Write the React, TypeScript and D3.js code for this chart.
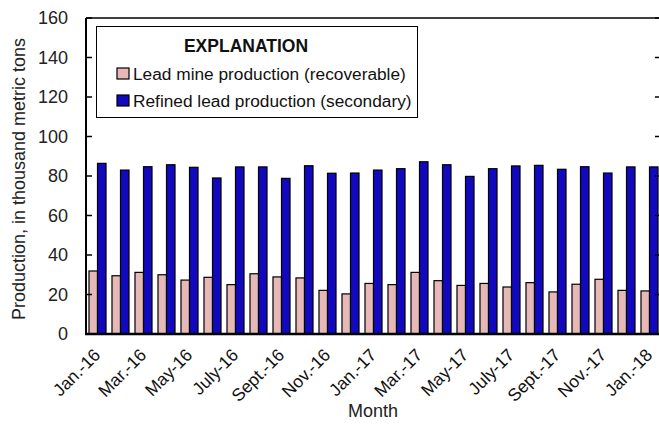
import React, { useEffect, useRef } from 'react';
import * as d3 from 'd3';

const months = [
  'Jan.-16', 'Feb.-16', 'Mar.-16', 'Apr.-16', 'May-16', 'June-16', 'July-16', 'Aug.-16', 'Sept.-16',
  'Oct.-16', 'Nov.-16', 'Dec.-16', 'Jan.-17', 'Feb.-17', 'Mar.-17', 'Apr.-17', 'May-17', 'June-17',
  'July-17', 'Aug.-17', 'Sept.-17', 'Oct.-17', 'Nov.-17', 'Dec.-17', 'Jan.-18',
];
// every other month gets a label
const tickMonths = months.filter((d, i) => i % 2 === 0);

const mineProduction = [
  31.9, 29.5, 31.2, 30.0, 27.3, 28.7, 25.0, 30.5, 28.9, 28.4, 22.1, 20.3, 25.6,
  25.0, 31.2, 27.0, 24.6, 25.6, 23.8, 26.0, 21.3, 25.2, 27.7, 22.1, 21.8,
];
const refinedProduction = [
  86.4, 83.0, 84.7, 85.7, 84.4, 79.0, 84.6, 84.6, 78.8, 85.2, 81.4, 81.5, 83.0,
  83.7, 87.2, 85.7, 79.8, 83.7, 85.1, 85.4, 83.4, 84.7, 81.5, 84.6, 84.6,
];
const seriesNames = ['Lead mine production (recoverable)', 'Refined lead production (secondary)'];
const seriesColors = ['#E6B8B7', '#1208BE'];
const yTicks = [0, 20, 40, 60, 80, 100, 120, 140, 160];

const W = 659;
const H = 426;
const FONT = '"Liberation Sans", Arial, sans-serif';

const App = () => {
  const svgRef = useRef<SVGSVGElement>(null);

  useEffect(() => {
    const svg = d3.select(svgRef.current);
    svg.selectAll('*').remove();

    const left = 86, right = 661, top = 18, bottom = 334;

    const x = d3.scaleBand().domain(months).range([left, right]).paddingInner(0.26).paddingOuter(0.13);
    const xInner = d3.scaleBand().domain(['mine', 'refined']).range([0, x.bandwidth()]);
    const y = d3.scaleLinear().domain([0, 160]).range([bottom, top]);

    const rows = months.map((m, i) => ({ month: m, mine: mineProduction[i], refined: refinedProduction[i] }));

    // bars
    const groups = svg.append('g').selectAll('g').data(rows).enter().append('g')
      .attr('transform', d => `translate(${x(d.month)},0)`);
    ['mine', 'refined'].forEach((key, k) => {
      groups.append('rect')
        .attr('x', xInner(key))
        .attr('width', xInner.bandwidth())
        .attr('y', (d: any) => y(d[key]))
        .attr('height', (d: any) => y(0) - y(d[key]))
        .attr('fill', seriesColors[k])
        .attr('stroke', '#000')
        .attr('stroke-width', 1.2);
    });

    // frame
    svg.append('line').attr('x1', left).attr('x2', right).attr('y1', top).attr('y2', top)
      .attr('stroke', '#000').attr('stroke-width', 1.5);
    svg.append('line').attr('x1', right).attr('x2', right).attr('y1', top).attr('y2', bottom)
      .attr('stroke', '#000').attr('stroke-width', 1.5);
    svg.append('line').attr('x1', left).attr('x2', left).attr('y1', top).attr('y2', bottom + 1)
      .attr('stroke', '#000').attr('stroke-width', 2);
    svg.append('line').attr('x1', left - 1).attr('x2', right).attr('y1', bottom).attr('y2', bottom)
      .attr('stroke', '#000').attr('stroke-width', 2.5);

    // y ticks, inside on both sides
    const ty = svg.append('g');
    yTicks.forEach(t => {
      ty.append('line').attr('x1', left).attr('x2', left + 6).attr('y1', y(t)).attr('y2', y(t))
        .attr('stroke', '#000').attr('stroke-width', 1.5);
      ty.append('line').attr('x1', right - 6).attr('x2', right).attr('y1', y(t)).attr('y2', y(t))
        .attr('stroke', '#000').attr('stroke-width', 1.5);
      ty.append('text').attr('x', 68).attr('y', y(t)).attr('dy', '0.35em')
        .attr('text-anchor', 'end').attr('font-size', 18).attr('font-family', FONT).attr('fill', '#222')
        .text(t);
    });

    // x labels
    svg.append('g').selectAll('text').data(tickMonths).enter().append('text')
      .attr('transform', d => `translate(${(x(d) as number) + x.bandwidth() / 2 + 4},356) rotate(-45)`)
      .attr('text-anchor', 'end')
      .attr('font-size', 17.5)
      .attr('font-family', FONT)
      .attr('fill', '#111')
      .text(d => d);

    // axis titles
    svg.append('text').attr('x', 373).attr('y', 417).attr('text-anchor', 'middle')
      .attr('font-size', 18).attr('font-family', FONT).attr('fill', '#222').text('Month');
    svg.append('text').attr('transform', 'translate(25,179) rotate(-90)').attr('text-anchor', 'middle')
      .attr('font-size', 18).attr('font-family', FONT).attr('fill', '#222')
      .text('Production, in thousand metric tons');

    // legend
    const lg = svg.append('g');
    lg.append('rect').attr('x', 96.5).attr('y', 26.5).attr('width', 321).attr('height', 91)
      .attr('fill', '#fff').attr('stroke', '#000').attr('stroke-width', 1);
    lg.append('text').attr('x', 246).attr('y', 52).attr('text-anchor', 'middle')
      .attr('font-size', 17.5).attr('font-weight', 'bold').attr('font-family', FONT).attr('fill', '#111')
      .text('EXPLANATION');
    seriesNames.forEach((name, i) => {
      const yy = 80 + i * 27;
      lg.append('rect').attr('x', 117).attr('y', yy - 12).attr('width', 12).attr('height', 11)
        .attr('fill', seriesColors[i]).attr('stroke', '#000').attr('stroke-width', 1.2);
      lg.append('text').attr('x', 133).attr('y', yy)
        .attr('font-size', 17.3).attr('font-family', FONT).attr('fill', '#111').text(name);
    });
  }, []);

  return (
    <svg
      ref={svgRef}
      width={W}
      height={H}
      style={{ position: 'absolute', left: 0, top: 0, background: '#fff' }}
    />
  );
};

export default App;
